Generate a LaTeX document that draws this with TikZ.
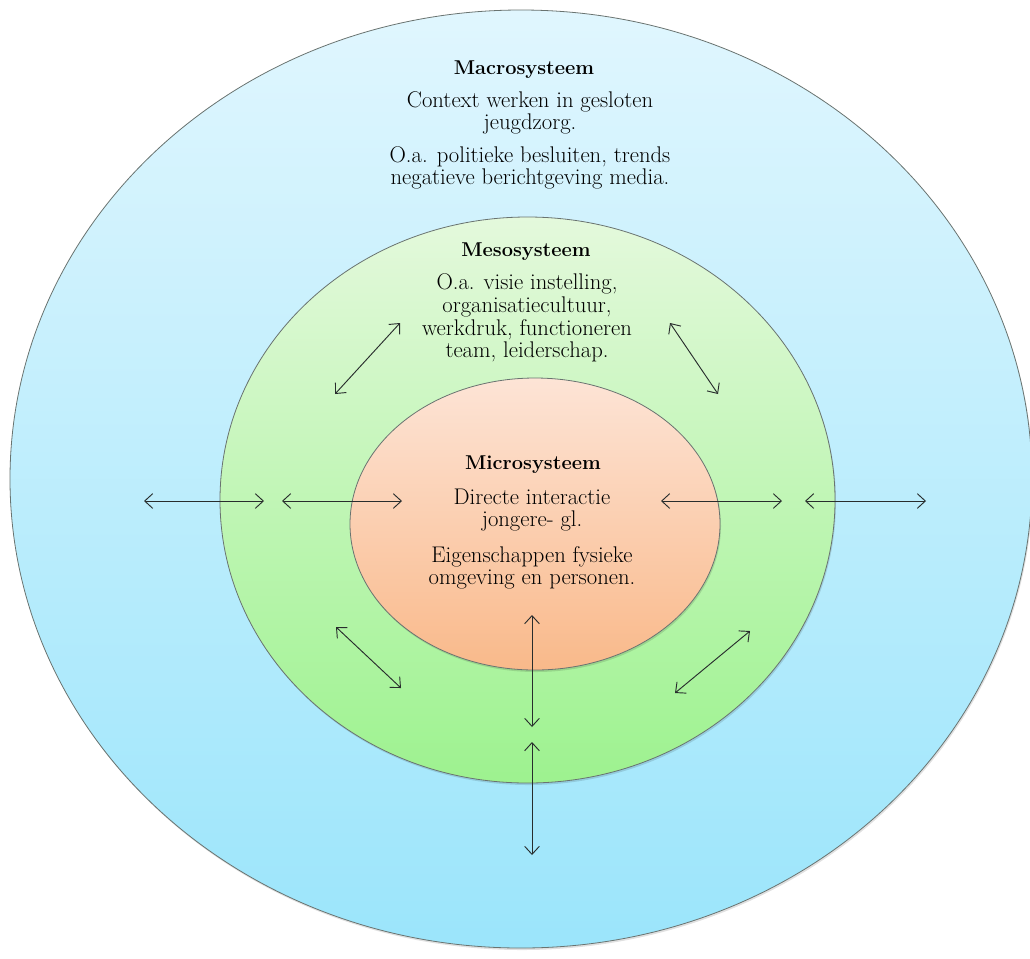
\documentclass[tikz,border=0pt]{standalone}
\usepackage{tikz}
\usetikzlibrary{arrows.meta}

\definecolor{macroTop}{RGB}{224,246,254}
\definecolor{macroBot}{RGB}{155,229,251}
\definecolor{mesoTop}{RGB}{228,249,220}
\definecolor{mesoBot}{RGB}{157,242,143}
\definecolor{microTop}{RGB}{253,228,214}
\definecolor{microBot}{RGB}{249,185,138}
\definecolor{rand}{RGB}{105,115,112}
\definecolor{pijlkleur}{RGB}{40,45,45}

\tikzset{every picture/.style={line width=0.75pt}}
\tikzset{
  sysrand/.style={draw=rand, line width=0.6pt},
  schaduw/.style={fill=black, opacity=0.12, draw=none},
  pijl/.style={draw=pijlkleur, line width=0.7pt,
    {Straight Barb[length=6pt,width=11pt,line width=0.7pt]}-{Straight Barb[length=6pt,width=11pt,line width=0.7pt]}},
  titel/.style={font=\fontsize{15}{17}\selectfont\bfseries},
  tekst/.style={font=\fontsize{17}{17}\selectfont, align=center},
}

\begin{document}
\begin{tikzpicture}[x=0.75pt,y=0.75pt,yscale=-1,xscale=1]
	\useasboundingbox (0,0) rectangle (1030,958);

	%Shape: Ellipse macro
	\fill [schaduw] (522,481) ellipse (511 and 469);
	\draw [sysrand, top color=macroTop, bottom color=macroBot] (521,479) ellipse (511 and 469);
	%Shape: Ellipse meso
	\fill [schaduw] (528.5,502) ellipse (307.5 and 283);
	\draw [sysrand, top color=mesoTop, bottom color=mesoBot] (527.5,500) ellipse (307.5 and 283);
	%Shape: Ellipse micro
	\fill [schaduw] (536,526) ellipse (185 and 146);
	\draw [sysrand, top color=microTop, bottom color=microBot] (535,524) ellipse (185 and 146);

	% Text Node
	\node [titel] (macro) at (524,70) {Macrosysteem};
	% Text Node
	\node [tekst] (macroa) at (530,113) {Context werken in gesloten\\jeugdzorg.};
	% Text Node
	\node [tekst] (macrob) at (530,168) {O.a. politieke besluiten, trends\\negatieve berichtgeving media.};
	% Text Node
	\node [titel] (meso) at (526,252) {Mesosysteem};
	% Text Node
	\node [tekst] (mesoa) at (527,318) {O.a. visie instelling,\\organisatiecultuur,\\werkdruk, functioneren\\team, leiderschap.};
	% Text Node
	\node [titel] (micro) at (533,465) {Microsysteem};
	% Text Node
	\node [tekst] (microa) at (532,510) {Directe interactie\\jongere- gl.};
	% Text Node
	\node [tekst] (microb) at (532,568) {Eigenschappen fysieke\\omgeving en personen.};

	% arrow ends
	\coordinate (wa1) at (144,501);
	\coordinate (wa2) at (264,501);
	\coordinate (wb1) at (282,501);
	\coordinate (wb2) at (402,501);
	\coordinate (ob1) at (661,501);
	\coordinate (ob2) at (782,501);
	\coordinate (oa1) at (805,501);
	\coordinate (oa2) at (926,501);
	\coordinate (nw1) at (335,394);
	\coordinate (nw2) at (400,323);
	\coordinate (ne1) at (670,323);
	\coordinate (ne2) at (718,394);
	\coordinate (sw1) at (336,627);
	\coordinate (sw2) at (401,688);
	\coordinate (se1) at (675,693);
	\coordinate (se2) at (750,631);
	\coordinate (za1) at (532,615);
	\coordinate (za2) at (532,727);
	\coordinate (zb1) at (532,742);
	\coordinate (zb2) at (532,855);

	%Straight Lines
	\draw [pijl] (wa1) -- (wa2);
	\draw [pijl] (wb1) -- (wb2);
	\draw [pijl] (ob1) -- (ob2);
	\draw [pijl] (oa1) -- (oa2);
	\draw [pijl] (nw1) -- (nw2);
	\draw [pijl] (ne1) -- (ne2);
	\draw [pijl] (sw1) -- (sw2);
	\draw [pijl] (se1) -- (se2);
	\draw [pijl] (za1) -- (za2);
	\draw [pijl] (zb1) -- (zb2);

\end{tikzpicture}
\end{document}
